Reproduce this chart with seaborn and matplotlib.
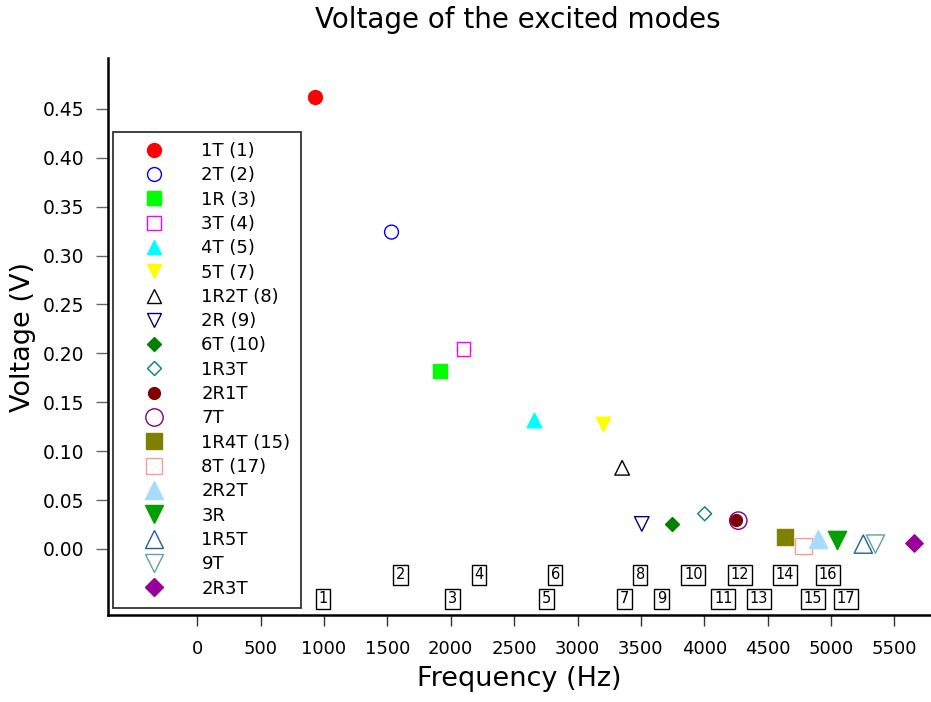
import matplotlib
matplotlib.use("Agg")
import matplotlib.pyplot as plt
import seaborn as sns
from matplotlib.lines import Line2D

# ---- data ----
modes = ["1T (1)", "2T (2)", "1R (3)", "3T (4)", "4T (5)", "5T (7)", "1R2T (8)",
         "2R (9)", "6T (10)", "1R3T", "2R1T", "7T", "1R4T (15)", "8T (17)",
         "2R2T", "3R", "1R5T", "9T", "2R3T"]
freq_hz = [932, 1533, 1919, 2100, 2659, 3202, 3352, 3507, 3743, 4003, 4247,
           4268, 4636, 4782, 4893, 5047, 5254, 5350, 5652]
voltage_v = [0.462, 0.324, 0.182, 0.2045, 0.132, 0.128, 0.083, 0.0256, 0.026,
             0.036, 0.030, 0.029, 0.012, 0.003, 0.0105, 0.0087, 0.005, 0.005,
             0.0064]
colors = ["#ff0000", "#0000ff", "#00ff00", "#ff00ff", "#00ffff", "#ffff00",
          "#000000", "#000080", "#008000", "#008080", "#800000", "#800080",
          "#808000", "#ff9a9a", "#a8dcff", "#00a000", "#1f5f9f", "#5fa3a3",
          "#990099"]
markers = ["o", "o", "s", "s", "^", "v", "^", "v", "D", "D", "o", "o",
           "s", "s", "^", "v", "^", "v", "D"]
filled = [True, False, True, False, True, True, False, False, True, False,
          True, False, True, False, True, True, False, False, True]
# relative marker size class: 0 = small dot, 1 = normal, 2 = large
size_class = [1, 1, 1, 1, 1, 1, 1, 1, 1, 1, 0, 2, 2, 2, 2, 2, 2, 2, 2]

# theoretical mode numbers (boxed labels)
label_nums = [str(i) for i in range(1, 18)]
label_freq = [994, 1605, 2015, 2222, 2754, 2824, 3370, 3494, 3661, 3913, 4150,
              4283, 4432, 4636, 4857, 4976, 5117]
label_volt = [-0.0511, -0.0266] * 8 + [-0.0511]

xticks = list(range(0, 5501, 500))
yticks = [0.00, 0.05, 0.10, 0.15, 0.20, 0.25, 0.30, 0.35, 0.40, 0.45]

# ---- style ----
sns.set_style("ticks")
plt.rcParams["font.family"] = ["DejaVu Sans"]
plt.rcParams["text.color"] = "black"
plt.rcParams["axes.labelcolor"] = "black"
plt.rcParams["xtick.color"] = "black"
plt.rcParams["ytick.color"] = "black"

fig = plt.figure(figsize=(9.31, 7.02), dpi=100)
ax = fig.add_axes([108 / 931, 1 - 615 / 702, 822 / 931, (615 - 58) / 702])

base_sizes = {0: 8.5, 1: 10.0, 2: 12.5}
handles = []
for name, f, v, c, m, fl, sc in zip(modes, freq_hz, voltage_v, colors,
                                      markers, filled, size_class):
    ms = base_sizes[sc]
    if m == "D":
        ms = ms / 1.41
    if m == "s":
        ms = ms * 0.95
    if m in ("^", "v"):
        ms = ms * 1.05
    sns.scatterplot(x=[f], y=[v], ax=ax, marker=m, s=ms ** 2,
                    color=c, edgecolor=c,
                    facecolor=(c if fl else "none"),
                    linewidth=1.0, zorder=3, legend=False)
    handles.append(Line2D([], [], linestyle="none", marker=m, markersize=ms,
                          markerfacecolor=(c if fl else "none"),
                          markeredgecolor=c, markeredgewidth=1.0, label=name))

for t, f, v in zip(label_nums, label_freq, label_volt):
    ax.text(f, v, t, ha="center", va="center", fontsize=10.5, color="black",
            bbox=dict(boxstyle="square,pad=0.18", facecolor="white",
                      edgecolor="black", linewidth=1.0), zorder=4)

ax.set_xlim(-703, 5780)
ax.set_ylim(-0.0675, 0.502)
ax.set_xticks(xticks)
ax.set_yticks(yticks)
ax.set_yticklabels([f"{y:.2f}" for y in yticks])

for s in ["top", "right"]:
    ax.spines[s].set_visible(False)
ax.spines["left"].set_linewidth(1.8)
ax.spines["bottom"].set_linewidth(1.8)
ax.spines["left"].set_color("black")
ax.spines["bottom"].set_color("black")

ax.tick_params(axis="y", direction="out", length=9, width=1.0, color="#666666",
               labelsize=13.5, pad=8, labelcolor="black")
ax.tick_params(axis="x", direction="out", length=8, width=1.0, color="#333333",
               labelsize=13, pad=10, labelcolor="black")

ax.set_xlabel("Frequency (Hz)", fontsize=19.5, labelpad=6)
ax.set_ylabel("Voltage (V)", fontsize=19.5, labelpad=5)
fig.text(518 / 931, 1 - 28 / 702, "Voltage of the excited modes",
         ha="center", va="baseline", fontsize=20, color="black")

leg = ax.legend(handles=handles, loc="upper left",
                bbox_to_anchor=(113 / 931, 1 - 132 / 702),
                bbox_transform=fig.transFigure, borderaxespad=0,
                fontsize=13, frameon=True, fancybox=False,
                handlelength=3.4, handletextpad=0.95, labelspacing=0.35,
                borderpad=0.55)
for txt in leg.get_texts():
    txt.set_color("black")
leg.get_frame().set_edgecolor("#333333")
leg.get_frame().set_linewidth(1.3)
leg.get_frame().set_facecolor("white")
leg.get_frame().set_alpha(1)
leg.set_zorder(5)

fig.savefig("out.png", dpi=100)
